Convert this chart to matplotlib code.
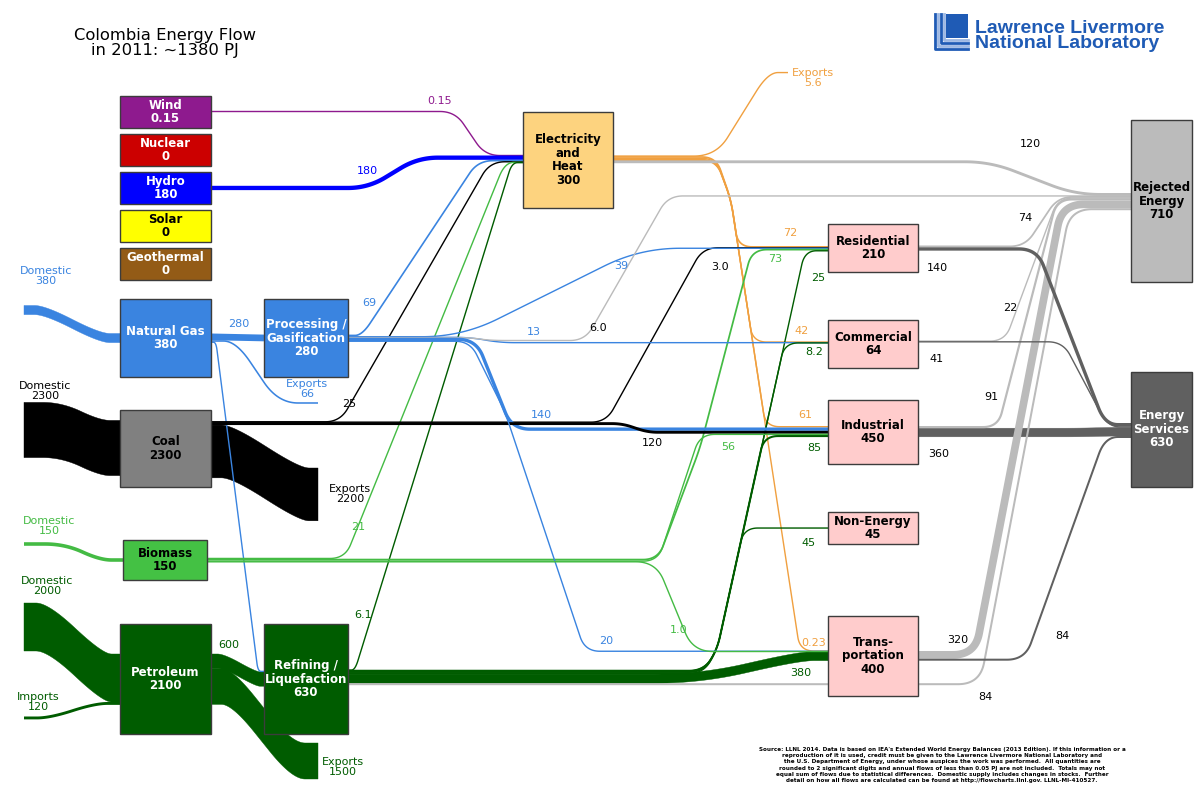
import numpy as np
import matplotlib.pyplot as plt
from matplotlib.patches import Rectangle, Polygon

plt.rcParams['font.family'] = ['DejaVu Sans']

# ---------------- data (PJ) ----------------
node_ids = ["wind", "nuclear", "hydro", "solar", "geothermal", "natgas", "processing",
            "coal", "biomass", "petroleum", "refining", "elec", "residential",
            "commercial", "industrial", "nonenergy", "transport", "rejected", "services"]
node_names = ["Wind", "Nuclear", "Hydro", "Solar", "Geothermal", "Natural Gas",
              "Processing /\nGasification", "Coal", "Biomass", "Petroleum",
              "Refining /\nLiquefaction", "Electricity\nand\nHeat", "Residential",
              "Commercial", "Industrial", "Non-Energy", "Trans-\nportation",
              "Rejected\nEnergy", "Energy\nServices"]
node_values = [0.15, 0, 180, 0, 0, 380, 280, 2300, 150, 2100, 630, 300,
               210, 64, 450, 45, 400, 710, 630]

flow_src = ["dom_gas", "dom_coal", "dom_bio", "dom_pet", "imp_pet",
            "natgas", "natgas", "natgas", "petroleum", "petroleum",
            "wind", "hydro", "processing", "coal", "biomass", "refining",
            "elec", "elec", "elec", "elec", "elec", "elec",
            "coal", "processing", "biomass", "refining",
            "processing", "refining", "processing",
            "processing", "coal", "biomass", "refining", "refining",
            "processing", "biomass", "refining", "coal",
            "residential", "residential", "commercial", "commercial",
            "industrial", "industrial", "transport", "transport", "refining"]
flow_dst = ["natgas", "coal", "biomass", "petroleum", "petroleum",
            "processing", "exp_gas", "refining", "refining", "exp_pet",
            "elec", "elec", "elec", "elec", "elec", "elec",
            "exp_elec", "residential", "commercial", "industrial", "transport", "rejected",
            "residential", "residential", "residential", "residential",
            "commercial", "commercial", "rejected",
            "industrial", "industrial", "industrial", "industrial", "nonenergy",
            "transport", "transport", "transport", "exp_coal",
            "rejected", "services", "rejected", "services",
            "rejected", "services", "rejected", "services", "rejected"]
flow_val = [380, 2300, 150, 2000, 120,
            280, 66, 34, 600, 1500,
            0.15, 180, 69, 25, 21, 6.1,
            5.6, 72, 42, 61, 0.23, 120,
            3.0, 39, 73, 25,
            13, 8.2, 6.0,
            140, 120, 56, 85, 45,
            20, 1.0, 380, 2200,
            74, 140, 22, 41,
            91, 360, 320, 84, 84]
flow_has_label = [True] * len(flow_val)
flow_has_label[7] = False

# ---------------- layout (pixels, y down) ----------------
S = 0.024  # px per PJ
MIN_W = 1.4

box = {
    "wind": (120, 96, 91, 32), "nuclear": (120, 134, 91, 32), "hydro": (120, 172, 91, 32),
    "solar": (120, 210, 91, 32), "geothermal": (120, 248, 91, 32),
    "natgas": (120, 299, 91, 78), "processing": (264, 299, 84, 78),
    "coal": (120, 410, 91, 77), "biomass": (123, 540, 84, 40),
    "petroleum": (120, 624, 91, 110), "refining": (264, 624, 84, 110),
    "elec": (523, 112, 90, 96),
    "residential": (828, 224, 90, 48), "commercial": (828, 320, 90, 48),
    "industrial": (828, 400, 90, 64), "nonenergy": (828, 512, 90, 32),
    "transport": (828, 616, 90, 80),
    "rejected": (1131, 120, 61, 162), "services": (1131, 372, 61, 115),
}
box_color = {
    "wind": "#8e1a8e", "nuclear": "#cc0000", "hydro": "#0000ff", "solar": "#ffff00",
    "geothermal": "#935b16", "natgas": "#3a84e0", "processing": "#3a84e0",
    "coal": "#808080", "biomass": "#44c144", "petroleum": "#005c00", "refining": "#005c00",
    "elec": "#fdd37f", "residential": "#ffcccc", "commercial": "#ffcccc",
    "industrial": "#ffcccc", "nonenergy": "#ffcccc", "transport": "#ffcccc",
    "rejected": "#bbbbbb", "services": "#606060",
}
white_text = {"wind", "nuclear", "hydro", "geothermal", "natgas", "processing",
              "petroleum", "refining", "services"}

# (x, top of stack)
out_port = {
    "dom_gas": (24, 305.5), "dom_coal": (24, 402.4), "dom_bio": (24, 542.2),
    "dom_pet": (24, 603), "imp_pet": (24, 716.5),
    "wind": (211, 111.5), "hydro": (211, 185.8), "natgas": (211, 333.5),
    "coal": (211, 421.5), "biomass": (207, 558.2), "petroleum": (211, 654),
    "processing": (348, 334.6), "refining": (348, 670), "elec": (613, 156),
    "residential": (918, 245.5), "commercial": (918, 340.8),
    "industrial": (918, 426), "transport": (918, 651),
}
in_port = {
    "natgas": (120, 333.5), "coal": (120, 420.4), "biomass": (123, 558.2),
    "petroleum": (120, 654), "processing": (264, 334.6), "refining": (264, 671),
    "elec": (523, 155.5), "residential": (828, 246), "commercial": (828, 341.5),
    "industrial": (828, 426), "nonenergy": (828, 527.5), "transport": (828, 651),
    "rejected": (1131, 193), "services": (1131, 423),
    "exp_gas": (318, 402.2), "exp_coal": (318, 468), "exp_pet": (318, 743),
    "exp_elec": (788, 72.5),
}

lanes = {
    "xo": lambda y: 738 + 0.153 * (y - 246),   # electricity going down
    "xg": lambda y: 805 - 0.22 * (y - 250),    # refined products going up
}
UP = [(703, 's'), ('xg', 650), ('xg', 'e')]
DOWN = [(716, 's'), ('xo', 200), ('xo', 'e')]

routes = [
    ([(45, 's'), (100, 'e')], 30), ([(62, 's'), (100, 'e')], 30),
    ([(65, 's'), (100, 'e')], 20), ([(48, 's'), (103, 'e')], 35),
    ([(50, 's'), (95, 'e')], 25),
    ([], 0), ([(236, 's'), (278, 'e')], 25), ([(216, 's'), (258, 'e')], 8),
    ([(224, 's'), (256, 'e')], 20), ([(232, 's'), (292, 'e')], 35),
    ([(455, 's'), (485, 'e')], 15), ([(368, 's'), (418, 'e')], 20),
    ([(362, 's'), (478, 'e')], 15), ([(340, 's'), (490, 'e')], 15),
    ([(345, 's'), (505, 'e')], 15), ([(355, 's'), (512, 'e')], 10),
    ([(716, 's'), (768, 'e')], 22), (DOWN, 14), (DOWN, 14), (DOWN, 14), (DOWN, 14),
    ([(990, 's'), (1075, 'e')], 25),
    ([(606, 's'), (703, 'e')], 15), ([(462, 's'), (640, 'e')], 40),
    ([(658, 's'), (700, 448), (752, 'e')], 15), (UP, 14),
    ([(470, 's'), (500, 'e')], 15), (UP, 14),
    ([(470, 's'), (490, 340.5), (585, 340.5), (668, 'e')], 15),
    ([(476, 's'), (512, 'e')], 18), ([(622, 's'), (648, 'e')], 10),
    ([(658, 's'), (700, 'e')], 15), (UP, 14), (UP, 14),
    ([(470, 's'), (505, 412), (585, 'e')], 15), ([(656, 's'), (693, 'e')], 20),
    ([(700, 's'), (800, 'e')], 45), ([(232, 's'), (300, 'e')], 35),
    ([(1025, 's'), (1058, 'e')], 15), ([(1037, 's'), (1105, 'e')], 18),
    ([(1005, 's'), (1058, 'e')], 15), ([(1063, 's'), (1108, 'e')], 15),
    ([(998, 's'), (1057, 'e')], 15), ([(1080, 's'), (1115, 'e')], 15),
    ([(975, 's'), (1062, 'e')], 22), ([(1025, 's'), (1105, 'e')], 18),
    ([(980, 's'), (1070, 'e')], 22),
]

label_pos = [(46, 276), (45, 391), (49, 526), (47, 586), (38, 702),
             (239, 324), (307, 389), None, (229, 645), (343, 767),
             (440, 101), (367, 171), (369, 303), (349, 404), (358, 527), (363, 615),
             (813, 78), (790, 233), (802, 331), (805, 415), (814, 643), (1030, 144),
             (720, 267), (621, 266), (775, 259), (818, 278),
             (534, 332), (814, 352), (598, 328),
             (541, 415), (652, 443), (728, 447), (814, 448), (808, 543),
             (606, 641), (679, 630), (801, 673), (350, 494),
             (1025, 218), (937, 268), (1010, 308), (936, 359),
             (991, 397), (939, 454), (958, 640), (1062, 636), (985, 697)]

fuel_color = {
    "dom_gas": "#3a84e0", "natgas": "#3a84e0", "processing": "#3a84e0",
    "dom_coal": "black", "coal": "black",
    "dom_bio": "#44bb44", "biomass": "#44bb44",
    "dom_pet": "#005c00", "imp_pet": "#005c00", "petroleum": "#005c00", "refining": "#005c00",
    "wind": "#8e1a8e", "hydro": "#0000ff", "elec": "#f0a040",
}
prefix = {"dom": "Domestic", "imp": "Imports", "exp": "Exports"}


def fmt(v):
    if v == 0:
        return "0"
    if v >= 10:
        return f"{v:.0f}"
    if v >= 1:
        return f"{v:.1f}"
    return f"{v:.2f}"


def rounded(pts, r):
    pts = np.asarray(pts, float)
    out = [pts[0]]
    t = np.linspace(0, 1, 24)[:, None]
    for i in range(1, len(pts) - 1):
        p0, p1, p2 = pts[i - 1], pts[i], pts[i + 1]
        v1, v2 = p1 - p0, p2 - p1
        l1, l2 = np.hypot(*v1), np.hypot(*v2)
        if l1 < 1e-9 or l2 < 1e-9:
            continue
        a = p1 - v1 / l1 * min(r, l1 / 2)
        b = p1 + v2 / l2 * min(r, l2 / 2)
        out.extend((1 - t) ** 2 * a + 2 * (1 - t) * t * p1 + t ** 2 * b)
    out.append(pts[-1])
    return np.array(out)


fig = plt.figure(figsize=(12, 8), dpi=100)
ax = fig.add_axes([0, 0, 1, 1])
ax.set_xlim(0, 1200)
ax.set_ylim(800, 0)
ax.axis('off')

out_next = {k: v[1] for k, v in out_port.items()}
in_next = {k: v[1] for k, v in in_port.items()}

for i, (a, b, v) in enumerate(zip(flow_src, flow_dst, flow_val)):
    w = v * S
    s = out_next[a] + w / 2
    out_next[a] += w
    e = in_next[b] + w / 2
    in_next[b] += w

    if b == "rejected":
        col = "#bbbbbb"
    elif b == "services":
        col = "#606060"
    else:
        col = fuel_color[a]

    pts = [(out_port[a][0], s)]
    way, r = routes[i]
    for x, y in way:
        yy = s if y == 's' else (e if y == 'e' else y)
        xx = lanes[x](yy) if isinstance(x, str) else x
        pts.append((xx, yy))
    pts.append((in_port[b][0], e))
    c = rounded(pts, r)

    z = 3 if b == "services" else 2
    if w >= 8:
        poly = np.vstack([c + [0, -w / 2], (c + [0, w / 2])[::-1]])
        ax.add_patch(Polygon(poly, closed=True, fc=col, ec=col, lw=0.3, zorder=1))
    else:
        ax.plot(c[:, 0], c[:, 1], color=col, lw=max(w, MIN_W) * 0.72,
                solid_capstyle='butt', solid_joinstyle='round', zorder=z)

    if flow_has_label[i] and label_pos[i] is not None:
        txt = fmt(v)
        for end in (a, b):
            if end[:3] in prefix:
                txt = prefix[end[:3]] + "\n" + txt
        tcol = "black" if col in ("#bbbbbb", "#606060") else col
        ax.text(label_pos[i][0], label_pos[i][1], txt, ha='center', va='center',
                fontsize=8, color=tcol, linespacing=0.92, zorder=6)

# boxes
for nid, name, val in zip(node_ids, node_names, node_values):
    x, y, bw, bh = box[nid]
    ax.add_patch(Rectangle((x, y), bw, bh, fc=box_color[nid], ec="#3c3c3c",
                           lw=1.0, zorder=5))
    ax.text(x + bw / 2, y + bh / 2, f"{name}\n{fmt(val)}", ha='center', va='center',
            fontsize=8.5, fontweight='bold', linespacing=1.05,
            color="white" if nid in white_text else "black", zorder=6)

# title
ax.text(165, 43, "Colombia Energy Flow\nin 2011: ~1380 PJ", ha='center', va='center',
        fontsize=11.8, linespacing=0.95)

# LLNL logo
blue = "#1f5bb5"
ax.add_patch(Rectangle((946, 14), 22, 24, fc=blue, ec='none'))
for k, colk in enumerate([blue, "#9db8e3", blue, "#9db8e3"]):
    xk = 935 + k * 3
    yk = 49 - k * 3
    ax.plot([xk, xk, 968], [14, yk, yk], color=colk, lw=2.0, solid_joinstyle='round')
ax.text(975, 36, "Lawrence Livermore\nNational Laboratory", ha='left', va='center',
        fontsize=14, fontweight='bold', color=blue, family='Liberation Sans',
        linespacing=0.85)

# source note
note = ("Source: LLNL 2014. Data is based on IEA's Extended World Energy Balances (2013 Edition). If this information or a\n"
        "reproduction of it is used, credit must be given to the Lawrence Livermore National Laboratory and\n"
        "the U.S. Department of Energy, under whose auspices the work was performed.  All quantities are\n"
        "rounded to 2 significant digits and annual flows of less than 0.05 PJ are not included.  Totals may not\n"
        "equal sum of flows due to statistical differences.  Domestic supply includes changes in stocks.  Further\n"
        "detail on how all flows are calculated can be found at http://flowcharts.llnl.gov. LLNL-MI-410527.")
ax.text(942, 765, note, ha='center', va='center', fontsize=4.1, fontweight='bold',
        linespacing=1.3)

fig.savefig("out.png", dpi=100)
